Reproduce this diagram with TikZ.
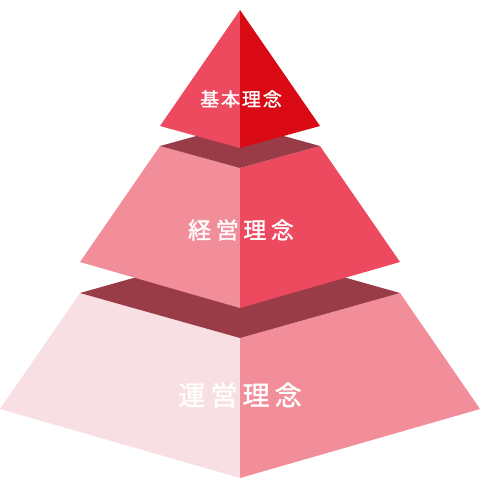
\documentclass[tikz,border=0pt]{standalone}
\usepackage{fontspec}
\newfontfamily\jpfont{Noto Sans CJK JP}
\usetikzlibrary{calc,positioning}
\definecolor{topred}{HTML}{DA0A15}
\definecolor{midred}{HTML}{ED4A5F}
\definecolor{lowred}{HTML}{F18E9A}
\definecolor{palered}{HTML}{F8DFE3}
\definecolor{darkrim}{HTML}{9A3B48}
\tikzset{
  face/.style={fill=#1,draw=none},
  rim/.style={fill=darkrim,draw=none},
  tiertext/.style args={#1,#2}{
  text=white,
  inner sep=0pt,
  font=\jpfont\fontsize{#1}{#1}\selectfont\addfontfeature{LetterSpace=#2,FakeBold=1.2}
  }
}
\begin{document}
\begin{tikzpicture}[x=1pt,y=-1pt]
  \useasboundingbox (0,0) rectangle (480,481);

  % bottom tier
  \coordinate (c3l) at (80,293);
  \coordinate (c3t) at (240,248);
  \coordinate (c3r) at (400,293);
  \coordinate (c3b) at (240,338);
  \coordinate (b3l) at (0,409);
  \coordinate (b3r) at (480,409);
  \coordinate (b3b) at (240,478);
  \fill[face=palered] (c3l) -- (c3b) -- (b3b) -- (b3l) -- cycle;
  \fill[face=lowred] (c3r) -- (c3b) -- (b3b) -- (b3r) -- cycle;
  \fill[rim] (c3l) -- (c3t) -- (c3r) -- (c3b) -- cycle;

  % middle tier
  \coordinate (c2l) at (160,146);
  \coordinate (c2t) at (240,124);
  \coordinate (c2r) at (320,146);
  \coordinate (c2b) at (240,168);
  \coordinate (b2l) at (80,262);
  \coordinate (b2r) at (400,262);
  \coordinate (b2b) at (240,308);
  \fill[face=lowred] (c2l) -- (c2b) -- (b2b) -- (b2l) -- cycle;
  \fill[face=midred] (c2r) -- (c2b) -- (b2b) -- (b2r) -- cycle;
  \fill[rim] (c2l) -- (c2t) -- (c2r) -- (c2b) -- cycle;

  % top tier
  \coordinate (apex) at (240,10);
  \coordinate (b1l) at (160,126);
  \coordinate (b1r) at (320,126);
  \coordinate (b1b) at (240,148);
  \fill[face=midred] (apex) -- (b1b) -- (b1l) -- cycle;
  \fill[face=topred] (apex) -- (b1b) -- (b1r) -- cycle;

  \node[tiertext={19,10}] (kihon) at (241,99) {基本理念};
  \node[tiertext={23,20}] (keiei) at (241,230) {経営理念};
  \node[tiertext={27,19}] (unei) at (240,395) {運営理念};
\end{tikzpicture}
\end{document}
